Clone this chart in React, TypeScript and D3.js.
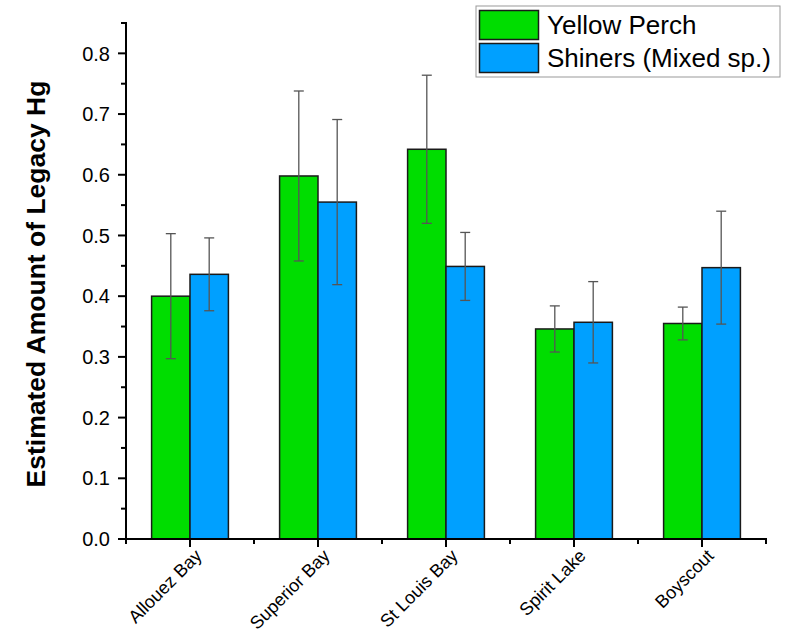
import React from "react";
import * as d3 from "d3";

const categories = ["Allouez Bay", "Superior Bay", "St Louis Bay", "Spirit Lake", "Boyscout"];
const seriesNames = ["Yellow Perch", "Shiners (Mixed sp.)"];
const perchValues = [0.40, 0.598, 0.642, 0.346, 0.355];
const perchErrors = [0.103, 0.14, 0.122, 0.038, 0.027];
const shinerValues = [0.436, 0.555, 0.449, 0.357, 0.447];
const shinerErrors = [0.06, 0.136, 0.056, 0.067, 0.093];
const yTicks = [0, 0.1, 0.2, 0.3, 0.4, 0.5, 0.6, 0.7, 0.8];
const yMinorTicks = [0.05, 0.15, 0.25, 0.35, 0.45, 0.55, 0.65, 0.75, 0.85];
const colors = ["#00DD00", "#00A0FF"];

const FONT = "'Liberation Sans', Arial, sans-serif";

export default function App() {
  const width = 800;
  const height = 635;
  const left = 126;
  const right = 766;
  const top = 23;
  const bottom = 539;

  const x = d3.scaleBand<string>().domain(categories).range([left, right]).paddingInner(0).paddingOuter(0);
  const y = d3.scaleLinear().domain([0, 0.85]).range([bottom, top]);
  const barW = x.bandwidth() * 0.3;

  const series = [
    { values: perchValues, errors: perchErrors },
    { values: shinerValues, errors: shinerErrors },
  ];

  const boundaries = d3.range(categories.length + 1).map((i) => left + i * x.bandwidth());

  return (
    <svg width={width} height={height} style={{ position: "absolute", left: 0, top: 0 }} fontFamily={FONT}>
      <rect width={width} height={height} fill="white" />
      {categories.map((c, i) => {
        const cx = (x(c) as number) + x.bandwidth() / 2;
        return (
          <g key={c}>
            {series.map((s, k) => {
              const bx = cx - barW + k * barW;
              return (
                <rect
                  key={k}
                  x={bx}
                  y={y(s.values[i])}
                  width={barW}
                  height={y(0) - y(s.values[i])}
                  fill={colors[k]}
                  stroke="#1a1a1a"
                  strokeWidth={1.5}
                />
              );
            })}
            {series.map((s, k) => {
              const ex = cx - barW / 2 + k * barW;
              const hi = y(s.values[i] + s.errors[i]);
              const lo = y(s.values[i] - s.errors[i]);
              return (
                <g key={"e" + k} stroke="#555" strokeWidth={1.3}>
                  <line x1={ex} x2={ex} y1={hi} y2={lo} />
                  <line x1={ex - 5} x2={ex + 5} y1={hi} y2={hi} />
                  <line x1={ex - 5} x2={ex + 5} y1={lo} y2={lo} />
                </g>
              );
            })}
          </g>
        );
      })}
      <line x1={left} x2={left} y1={top - 1} y2={bottom + 1} stroke="black" strokeWidth={2} />
      {yTicks.map((t) => (
        <g key={t}>
          <line x1={left - 8} x2={left} y1={y(t)} y2={y(t)} stroke="black" strokeWidth={2} />
          <text x={left - 16} y={y(t)} dy="0.36em" textAnchor="end" fontSize={20} fill="black">
            {t.toFixed(1)}
          </text>
        </g>
      ))}
      {yMinorTicks.map((t) => (
        <line key={t} x1={left - 5} x2={left} y1={y(t)} y2={y(t)} stroke="black" strokeWidth={2} />
      ))}
      <text
        transform={`translate(45,284) rotate(-90)`}
        textAnchor="middle"
        fontSize={26.5}
        fontWeight="bold"
        fill="black"
      >
        Estimated Amount of Legacy Hg
      </text>
      <line x1={left - 1} x2={right + 1} y1={bottom} y2={bottom} stroke="black" strokeWidth={2} />
      {categories.map((c) => {
        const cx = (x(c) as number) + x.bandwidth() / 2;
        return (
          <g key={c}>
            <line x1={cx} x2={cx} y1={bottom} y2={bottom + 8} stroke="black" strokeWidth={2} />
            <text
              transform={`translate(${cx + 4},${bottom + 9}) rotate(-45)`}
              textAnchor="end"
              dy="0.7em"
              fontSize={18}
              fill="black"
            >
              {c}
            </text>
          </g>
        );
      })}
      {boundaries.map((b, i) => (
        <line key={i} x1={b} x2={b} y1={bottom} y2={bottom + 5} stroke="black" strokeWidth={2} />
      ))}
      <rect x={476} y={6} width={304} height={71} fill="white" stroke="#999" strokeWidth={1} />
      {seriesNames.map((n, k) => (
        <g key={n}>
          <rect x={479.5} y={10.5 + k * 33} width={59} height={29} fill={colors[k]} stroke="#1a1a1a" strokeWidth={1.5} />
          <text x={547} y={25 + k * 33} dy="0.36em" fontSize={26} fill="black">
            {n}
          </text>
        </g>
      ))}
    </svg>
  );
}
